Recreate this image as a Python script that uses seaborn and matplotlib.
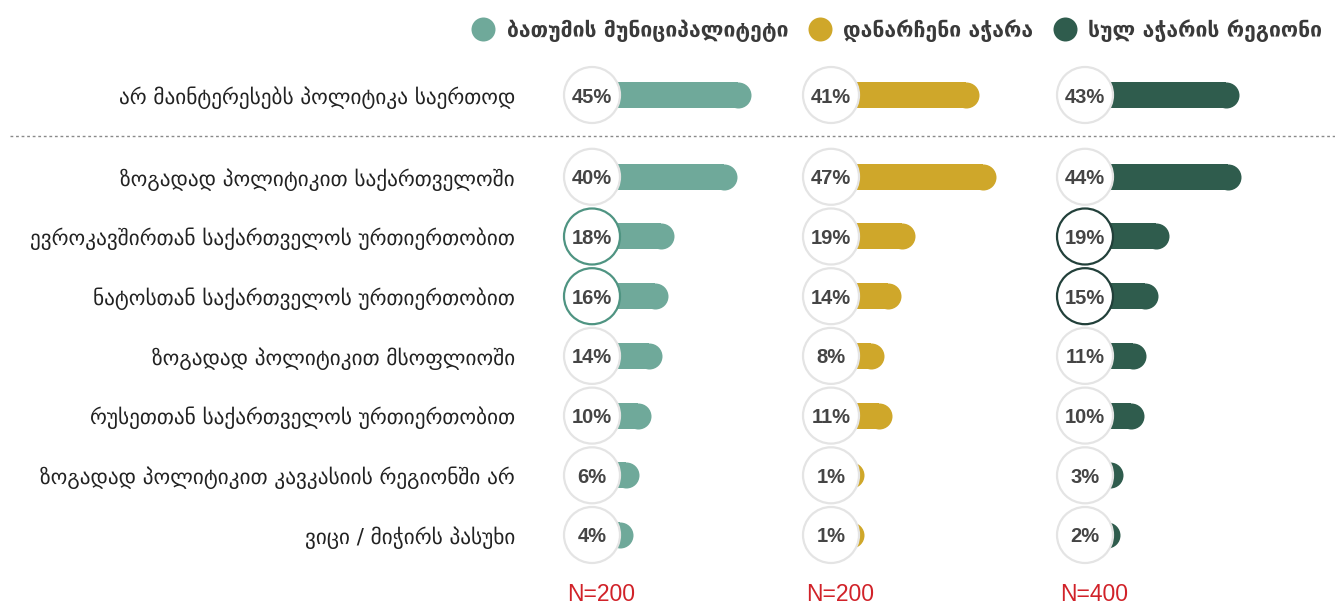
import numpy as np
import pandas as pd
import matplotlib.pyplot as plt
from matplotlib.lines import Line2D
from matplotlib import transforms
import seaborn as sns

# --- data ---
categories = [
    "არ მაინტერესებს პოლიტიკა საერთოდ",
    "ზოგადად პოლიტიკით საქართველოში",
    "ევროკავშირთან საქართველოს ურთიერთობით",
    "ნატოსთან საქართველოს ურთიერთობით",
    "ზოგადად პოლიტიკით მსოფლიოში",
    "რუსეთთან საქართველოს ურთიერთობით",
    "ზოგადად პოლიტიკით კავკასიის რეგიონში არ",
    "ვიცი / მიჭირს პასუხი",
]
batumi = [45, 40, 18, 16, 14, 10, 6, 4]
rest_of_adjara = [41, 47, 19, 14, 8, 11, 1, 1]
all_adjara = [43, 44, 19, 15, 11, 10, 3, 2]
groups = ["ბათუმის მუნიციპალიტეტი", "დანარჩენი აჭარა", "სულ აჭარის რეგიონი"]
sample_sizes = [200, 200, 400]

# --- styling / layout ---
colors = ["#6fa99a", "#cfa72a", "#2f5c4d"]
ring_colors = ["#4f9482", None, "#22403a"]
highlight_rows = [2, 3]
plain_ring = "#e4e4e4"

W, H, DPI = 1335, 613, 100
PX_PER_UNIT = 2.88        # pixels per percentage point
ROW_PX = 59.7
FIRST_ROW_PX = 95
GAP = 0.37                # extra space after the first row
CENTERS_PX = [592, 831, 1085]
LABEL_RIGHT_PX = 515
BASE = 5.8
CAP_PX = 26
CIRCLE_PX = 56
pt = 72 / DPI

sns.set_theme(style="white")
plt.rcParams["font.family"] = ["DejaVu Sans"]

fig = plt.figure(figsize=(W / DPI, H / DPI), dpi=DPI)

n = len(categories)
pos = np.arange(n) + np.where(np.arange(n) > 0, GAP, 0)
ymin_pos, ymax_pos = -1.0, 8.5
ax_bottom = 1 - (FIRST_ROW_PX + ROW_PX * ymax_pos) / H
ax_h = ROW_PX * (ymax_pos - ymin_pos) / H
left_px, width_px = 40, 240

axes = []
for i, vals in enumerate([batumi, rest_of_adjara, all_adjara]):
    cx = CENTERS_PX[i]
    ax = fig.add_axes([(cx - left_px) / W, ax_bottom, width_px / W, ax_h])
    axes.append(ax)
    df = pd.DataFrame({"pos": pos, "value": vals})

    sns.barplot(data=df, x="value", y="pos", orient="y", native_scale=True,
                width=CAP_PX / ROW_PX, left=BASE, color=colors[i],
                saturation=1, errorbar=None, ax=ax, zorder=2, linewidth=0)

    # rounded ends of the bars
    ax.scatter(BASE + df["value"], df["pos"], s=(CAP_PX * pt) ** 2,
               color=colors[i], linewidths=0, zorder=2)

    # value bubbles
    edges = [ring_colors[i] if (r in highlight_rows and ring_colors[i]) else plain_ring
             for r in range(n)]
    ax.scatter(np.zeros(n), df["pos"], s=(CIRCLE_PX * pt) ** 2, facecolor="white",
               edgecolors=edges, linewidths=1.6, zorder=3)
    for v, p in zip(vals, pos):
        ax.text(0, p, f"{v}%", ha="center", va="center_baseline", fontsize=14.5,
                fontweight="bold", family="Liberation Sans", color="#454545", zorder=4)

    ax.text(-25 / PX_PER_UNIT, pos[-1] + 1.0, f"N={sample_sizes[i]}", ha="left",
            va="center", color="#d12229", fontsize=16.5, family="Liberation Sans")

    ax.set_xlim(-left_px / PX_PER_UNIT, (width_px - left_px) / PX_PER_UNIT)
    ax.set_ylim(ymax_pos, ymin_pos)
    ax.set(xlabel="", ylabel="", xticks=[])
    sns.despine(ax=ax, left=True, bottom=True)
    if i == 0:
        ax.set_yticks(pos)
        ax.set_yticklabels(categories, fontsize=15.3, color="#222222")
        ax.tick_params(axis="y", length=0, pad=(cx - left_px - LABEL_RIGHT_PX) * pt)
    else:
        ax.set_yticks([])
    ax.patch.set_alpha(0)

# dotted separator under the first row
sep = (pos[0] + pos[1]) / 2
tr = transforms.blended_transform_factory(fig.transFigure, axes[0].transData)
fig.add_artist(Line2D([10 / W, 1], [sep, sep], transform=tr, ls=(0, (2, 2)),
                      color="#8a8a8a", lw=1))

handles = [Line2D([], [], marker="o", ls="", markersize=24 * pt, markerfacecolor=c,
                  markeredgewidth=0) for c in colors]
fig.legend(handles, groups, loc="upper right", bbox_to_anchor=(1341 / W, 1.0),
           ncol=3, frameon=False, handlelength=1.2, handletextpad=0.5,
           columnspacing=0.9, prop={"size": 15.2, "weight": "bold"},
           labelcolor="#3a3a3a")

fig.savefig("out.png", dpi=DPI)
